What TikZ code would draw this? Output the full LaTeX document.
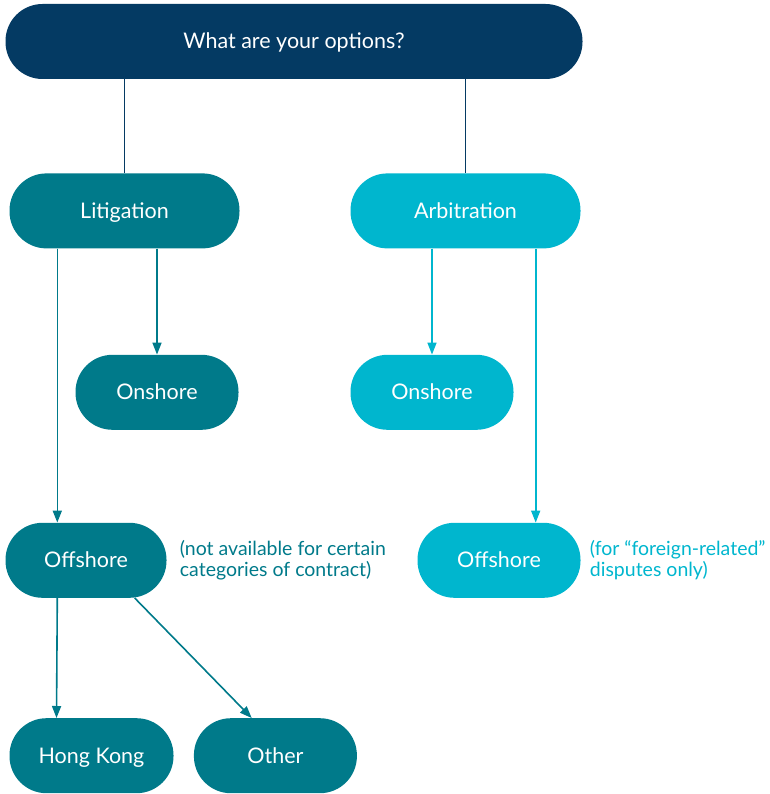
\documentclass[tikz,border=0pt]{standalone}
\usepackage{fontspec}
\setmainfont{Lato}
\usepackage{xcolor}
\usepackage{tikz}
\usetikzlibrary{positioning, arrows.meta}

\definecolor{qcol}{HTML}{043A63}
\definecolor{litcol}{HTML}{007A8A}
\definecolor{arbcol}{HTML}{00B6CE}

\tikzset{
  box/.style={rectangle, rounded corners=37pt, minimum height=75pt, inner sep=0pt,
    text height=16pt, text depth=1pt, text=white, font=\fontsize{21.5}{25}\selectfont},
  qbox/.style={box, fill=qcol, minimum width=577pt},
  litbox/.style={box, fill=litcol},
  arbbox/.style={box, fill=arbcol},
  note/.style={align=left, inner sep=0pt, font=\fontsize{19.5}{21}\selectfont},
  conn/.style={line width=1.6pt},
  tip/.style={conn, -{Triangle[length=12pt,width=9pt]}}
}

\begin{document}
\begin{tikzpicture}
    \useasboundingbox (0,0) rectangle (769pt,-794pt);

		\node[qbox] (Q) at (294pt,-41.5pt) {What are your options?};
		\node[litbox, minimum width=230pt] (L) [below=94pt of Q.south west, anchor=north west, xshift=4pt] {Litigation};
		\node[arbbox, minimum width=230pt] (A) [below=94pt of Q.south east, anchor=north east, xshift=-2pt] {Arbitration};
		\node[litbox, minimum width=163pt] (LOn) [below=106pt of L.south east, anchor=north east, xshift=-1pt] {Onshore};
		\node[arbbox, minimum width=163pt] (AOn) [below=106pt of A.south west, anchor=north west] {Onshore};
		\node[litbox, minimum width=161pt] (LOff) [below=274pt of L.south west, anchor=north west, xshift=-4pt] {Offshore};
		\node[arbbox, minimum width=163pt] (AOff) [below=274pt of A.south east, anchor=north east] {Offshore};
		\node[litbox, minimum width=164pt] (HK) [below=120pt of LOff.south west, anchor=north west, xshift=4pt] {Hong Kong};
		\node[litbox, minimum width=163pt] (O) [right=20pt of HK] {Other};

		\node[note, text=litcol] (LNote) [right=13pt of LOff] {(not available for certain\\categories of contract)};
		\node[note, text=arbcol] (ANote) [right=9pt of AOff] {(for “foreign-related”\\disputes only)};

		\coordinate (l1) at ([xshift=48pt]L.south west);
		\coordinate (a1) at ([xshift=-45pt]A.south east);

		\path[every edge/.style={conn, draw=qcol}]
        (Q.south -| L) edge (L)
		(Q.south -| A) edge (A);

		\path[every edge/.style={tip, draw=litcol, fill=litcol}]
        (L.south -| LOn) edge (LOn)
		(l1) edge (l1 |- LOff.north)
		(l1 |- LOff.south) edge ([xshift=-35pt]HK.north)
		([xshift=-32pt]LOff.south east) edge ([xshift=58pt]O.north west);

		\path[every edge/.style={tip, draw=arbcol, fill=arbcol}]
        (A.south -| AOn) edge (AOn)
		(a1) edge (a1 |- AOff.north);
    \end{tikzpicture}
\end{document}
